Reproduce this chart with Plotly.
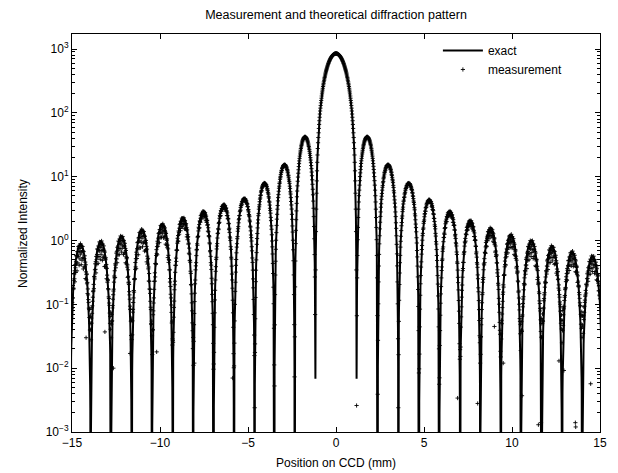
import numpy as np
import plotly.graph_objects as go

# ---- values ----
# positions of the intensity zeros (mm), right and left of the centre
zeros_right = [1.17, 2.37, 3.54, 4.72, 5.87, 7.05, 8.20, 9.36, 10.51, 11.69, 12.84, 13.99, 15.16]
zeros_left = [-1.17, -2.35, -3.50, -4.62, -5.80, -6.95, -8.11, -9.28, -10.45, -11.61, -12.78, -13.94, -15.10]
# peak intensity of the central maximum and of each side lobe (exact curve)
center_peak = 850.0
lobe_peak_right = [42, 15.5, 8.0, 4.4, 2.9, 2.08, 1.58, 1.24, 1.00, 0.81, 0.66, 0.56]
lobe_peak_left = [42, 15.5, 8.0, 4.6, 3.7, 2.9, 2.3, 1.82, 1.49, 1.17, 0.97, 0.87]
# depth reached by the sampled exact curve at the first zeros
first_zero_depth = 6.8e-3
# measurement: lower edge of the scatter band (fraction of lobe peak) and noise floor
meas_low_right = [1.0, 0.97, 0.95, 0.92, 0.85, 0.8, 0.7, 0.6, 0.5, 0.5, 0.5, 0.45]
meas_low_left = [1.0, 0.97, 0.95, 0.92, 0.85, 0.8, 0.7, 0.6, 0.5, 0.5, 0.45, 0.4]
meas_floor_right = [0.002, 0.003, 0.004, 0.006, 0.01, 0.015, 0.02, 0.03, 0.04, 0.05, 0.05, 0.05]
meas_floor_left = [0.002, 0.003, 0.004, 0.006, 0.01, 0.015, 0.02, 0.03, 0.04, 0.05, 0.05, 0.05]
band_pattern = [0.0, 0.6, 0.2, 1.0, 0.1, 0.45, 0.8, 0.3]
# isolated measurement points well below the curve
outlier_x = [6.91, 8.05, 9.5, 10.57, 11.65, 12.67, 12.95, 13.6, 14.47, 9.0,
             -13.13, -12.65, -11.7, -10.19, -8.05, -5.87, -4.6, -14.2, 11.5, 13.62]
outlier_y = [3.4e-3, 2.8e-3, 1.2e-2, 3.7e-3, 1.4e-3, 1.3e-2, 9.2e-3, 1.4e-3, 5.7e-3, 4.5e-2,
             3.7e-2, 1.0e-2, 1.7e-2, 1.8e-2, 1.2e-2, 7e-3, 2.4e-2, 3e-2, 1.3e-3, 1.2e-3]

x_ticks = [-15, -10, -5, 0, 5, 10, 15]
x_tick_text = ["\u221215", "\u221210", "\u22125", "0", "5", "10", "15"]
y_ticks = [1e-3, 1e-2, 1e-1, 1e0, 1e1, 1e2, 1e3]
y_tick_text = ["10<sup>\u22123</sup>", "10<sup>\u22122</sup>", "10<sup>\u22121</sup>",
               "10<sup>0</sup>", "10<sup>1</sup>", "10<sup>2</sup>", "10<sup>3</sup>"]

# ---- lobes: (start, end, peak, band low, floor) ----
lobes = []
for i in range(len(lobe_peak_left) - 1, -1, -1):
    lobes.append((zeros_left[i + 1], zeros_left[i], lobe_peak_left[i], meas_low_left[i], meas_floor_left[i]))
lobes.append((zeros_left[0], zeros_right[0], center_peak, 1.0, 0.001))
for i in range(len(lobe_peak_right)):
    lobes.append((zeros_right[i], zeros_right[i + 1], lobe_peak_right[i], meas_low_right[i], meas_floor_right[i]))

# exact curve
ex_x, ex_y = [], []
for k, (a, b, p, lo, fl) in enumerate(lobes):
    t = np.linspace(0, 1, 121)[1:-1]
    ex_x.append([a])
    ex_y.append([first_zero_depth if abs(abs(a) - zeros_right[0]) < 0.05 else 1e-7])
    ex_x.append(a + (b - a) * t)
    ex_y.append(p * np.sin(np.pi * t) ** 2)
ex_x.append([lobes[-1][1]])
ex_y.append([1e-7])
ex_x = np.concatenate(ex_x)
ex_y = np.concatenate(ex_y)
mask = (ex_x >= -15.2) & (ex_x <= 15.2)
ex_x, ex_y = ex_x[mask], ex_y[mask]

# measurement samples (CCD pixel grid)
m_x = np.arange(-15.0, 15.0001, 0.015)
m_y = np.zeros_like(m_x)
for j, x in enumerate(m_x):
    for (a, b, p, lo, fl) in lobes:
        if a <= x <= b:
            t = (x - a) / (b - a)
            w = band_pattern[j % len(band_pattern)]
            f = 1.0 - (1.0 - lo) * w
            m_y[j] = p * np.sin(np.pi * t) ** 2 * f + fl * (0.5 + w)
            break
m_x = np.concatenate([m_x, outlier_x])
m_y = np.concatenate([m_y, outlier_y])

fig = go.Figure()
fig.add_trace(go.Scatter(x=ex_x, y=ex_y, mode="lines", name="exact",
                         line=dict(color="black", width=2)))
fig.add_trace(go.Scatter(x=m_x, y=m_y, mode="markers", name="measurement",
                         marker=dict(symbol="cross-thin", size=3, color="black",
                                     line=dict(color="black", width=0.9))))

font = "Liberation Sans, Arial, Helvetica, sans-serif"
minor_vals = [k * 10.0 ** n for n in range(-3, 3) for k in range(2, 10)]
# page body adds an 8px offset; margins compensate so the axes box sits at 72..600 x 34..432
fig.update_layout(
    width=618, height=473,
    margin=dict(l=64, r=26, t=26, b=49),
    paper_bgcolor="white", plot_bgcolor="white",
    font=dict(family=font, size=12, color="black"),
    title=dict(text="Measurement and theoretical diffraction pattern",
               x=0.5, xref="paper", xanchor="center", y=0.985, yanchor="middle",
               font=dict(size=12.5)),
    showlegend=True,
    legend=dict(x=0.693, y=0.995, xanchor="left", yanchor="top",
                bgcolor="rgba(255,255,255,0)", borderwidth=0,
                font=dict(size=12), tracegroupgap=0, itemwidth=40),
    annotations=[
        dict(text="Position on CCD (mm)", xref="paper", yref="paper", x=0.5, y=-0.078,
             xanchor="center", yanchor="middle", showarrow=False, font=dict(size=12)),
        dict(text="Normalized Intensity", xref="paper", yref="paper", x=-0.093, y=0.5,
             xanchor="center", yanchor="middle", textangle=-90, showarrow=False, font=dict(size=12)),
    ],
)
fig.update_xaxes(range=[-15, 15], tickvals=x_ticks, ticktext=x_tick_text,
                 ticks="inside", ticklen=5, tickcolor="black", showgrid=False, zeroline=False,
                 showline=True, linecolor="black", linewidth=1, mirror="allticks")
fig.update_yaxes(type="log", range=[-3, 3.235], tickvals=y_ticks, ticktext=y_tick_text,
                 ticks="inside", ticklen=5, tickcolor="black", showgrid=False, zeroline=False,
                 showline=True, linecolor="black", linewidth=1, mirror="allticks",
                 minor=dict(tickvals=minor_vals, ticks="inside", ticklen=3, tickcolor="black", showgrid=False))
fig.write_html("out.html")
